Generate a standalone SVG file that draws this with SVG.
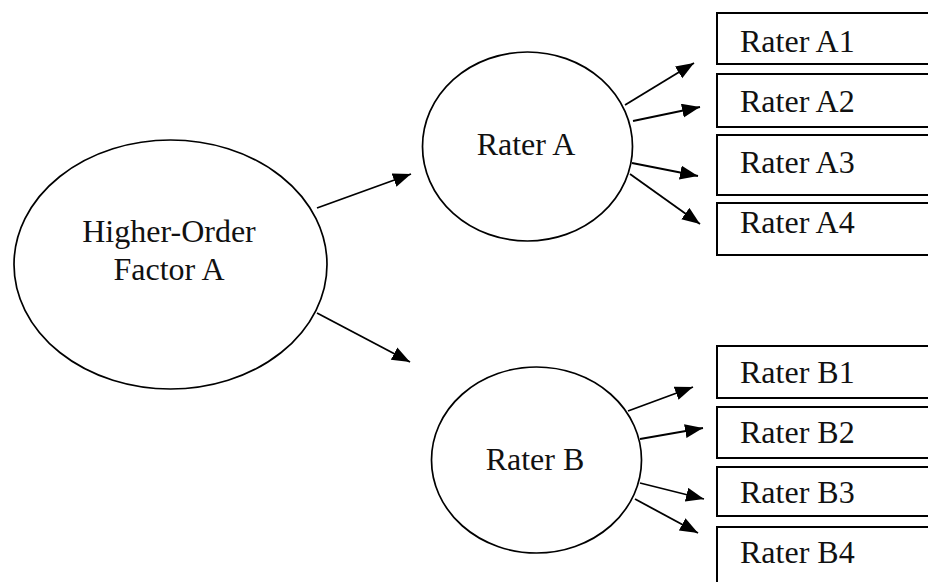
<svg xmlns="http://www.w3.org/2000/svg" width="928" height="582" viewBox="0 0 928 582">
<style>
.shape{fill:#fff;stroke:#000;stroke-width:1.7}
.box{fill:#fff;stroke:#000;stroke-width:2}
.lbl{font-family:"Liberation Serif","Times New Roman",serif;font-size:32px;fill:#111}
.c{text-anchor:middle}
.edge{stroke:#000;stroke-width:1.8;fill:none;marker-end:url(#ah)}
</style>
<defs>
<marker id="ah" markerUnits="userSpaceOnUse" markerWidth="20" markerHeight="16" refX="18" refY="7" orient="auto">
<path d="M0,0 L18,7 L0,14 z" fill="#000"/>
</marker>
</defs>
<rect width="928" height="582" fill="#fff"/>
<g id="hof">
<ellipse class="shape" cx="170.5" cy="264.5" rx="156.5" ry="124.5"/>
<text class="lbl c" x="169" y="242">Higher-Order</text>
<text class="lbl c" x="169" y="280">Factor A</text>
</g>
<g id="raterA">
<ellipse class="shape" cx="527.5" cy="146.5" rx="105" ry="94.5"/>
<text class="lbl c" x="526" y="155">Rater A</text>
</g>
<g id="raterB">
<ellipse class="shape" cx="536.5" cy="460" rx="105" ry="93"/>
<text class="lbl c" x="535" y="470">Rater B</text>
</g>
<g id="A1"><rect class="box" x="717" y="13" width="220" height="51"/><text class="lbl" x="740" y="52">Rater A1</text></g>
<g id="A2"><rect class="box" x="717" y="74" width="220" height="53"/><text class="lbl" x="740" y="112">Rater A2</text></g>
<g id="A3"><rect class="box" x="717" y="135" width="220" height="60"/><text class="lbl" x="740" y="173">Rater A3</text></g>
<g id="A4"><rect class="box" x="717" y="203" width="220" height="52"/><text class="lbl" x="740" y="233">Rater A4</text></g>
<g id="B1"><rect class="box" x="717" y="346" width="220" height="52"/><text class="lbl" x="740" y="383">Rater B1</text></g>
<g id="B2"><rect class="box" x="717" y="407" width="220" height="51"/><text class="lbl" x="740" y="443">Rater B2</text></g>
<g id="B3"><rect class="box" x="717" y="467" width="220" height="49"/><text class="lbl" x="740" y="503">Rater B3</text></g>
<g id="B4"><rect class="box" x="717" y="527" width="220" height="70"/><text class="lbl" x="740" y="563">Rater B4</text></g>
<g id="connectors">
<line class="edge" x1="317" y1="208" x2="411" y2="174"/>
<line class="edge" x1="317" y1="313" x2="410" y2="362"/>
<line class="edge" x1="625" y1="105" x2="694" y2="63"/>
<line class="edge" x1="633" y1="121" x2="700" y2="107"/>
<line class="edge" x1="632" y1="163" x2="698" y2="176"/>
<line class="edge" x1="630" y1="174" x2="700" y2="224"/>
<line class="edge" x1="628" y1="411" x2="693" y2="387"/>
<line class="edge" x1="640" y1="439" x2="703" y2="428"/>
<line class="edge" x1="640" y1="483" x2="704" y2="499"/>
<line class="edge" x1="635" y1="499" x2="698" y2="533"/>
</g>
</svg>
